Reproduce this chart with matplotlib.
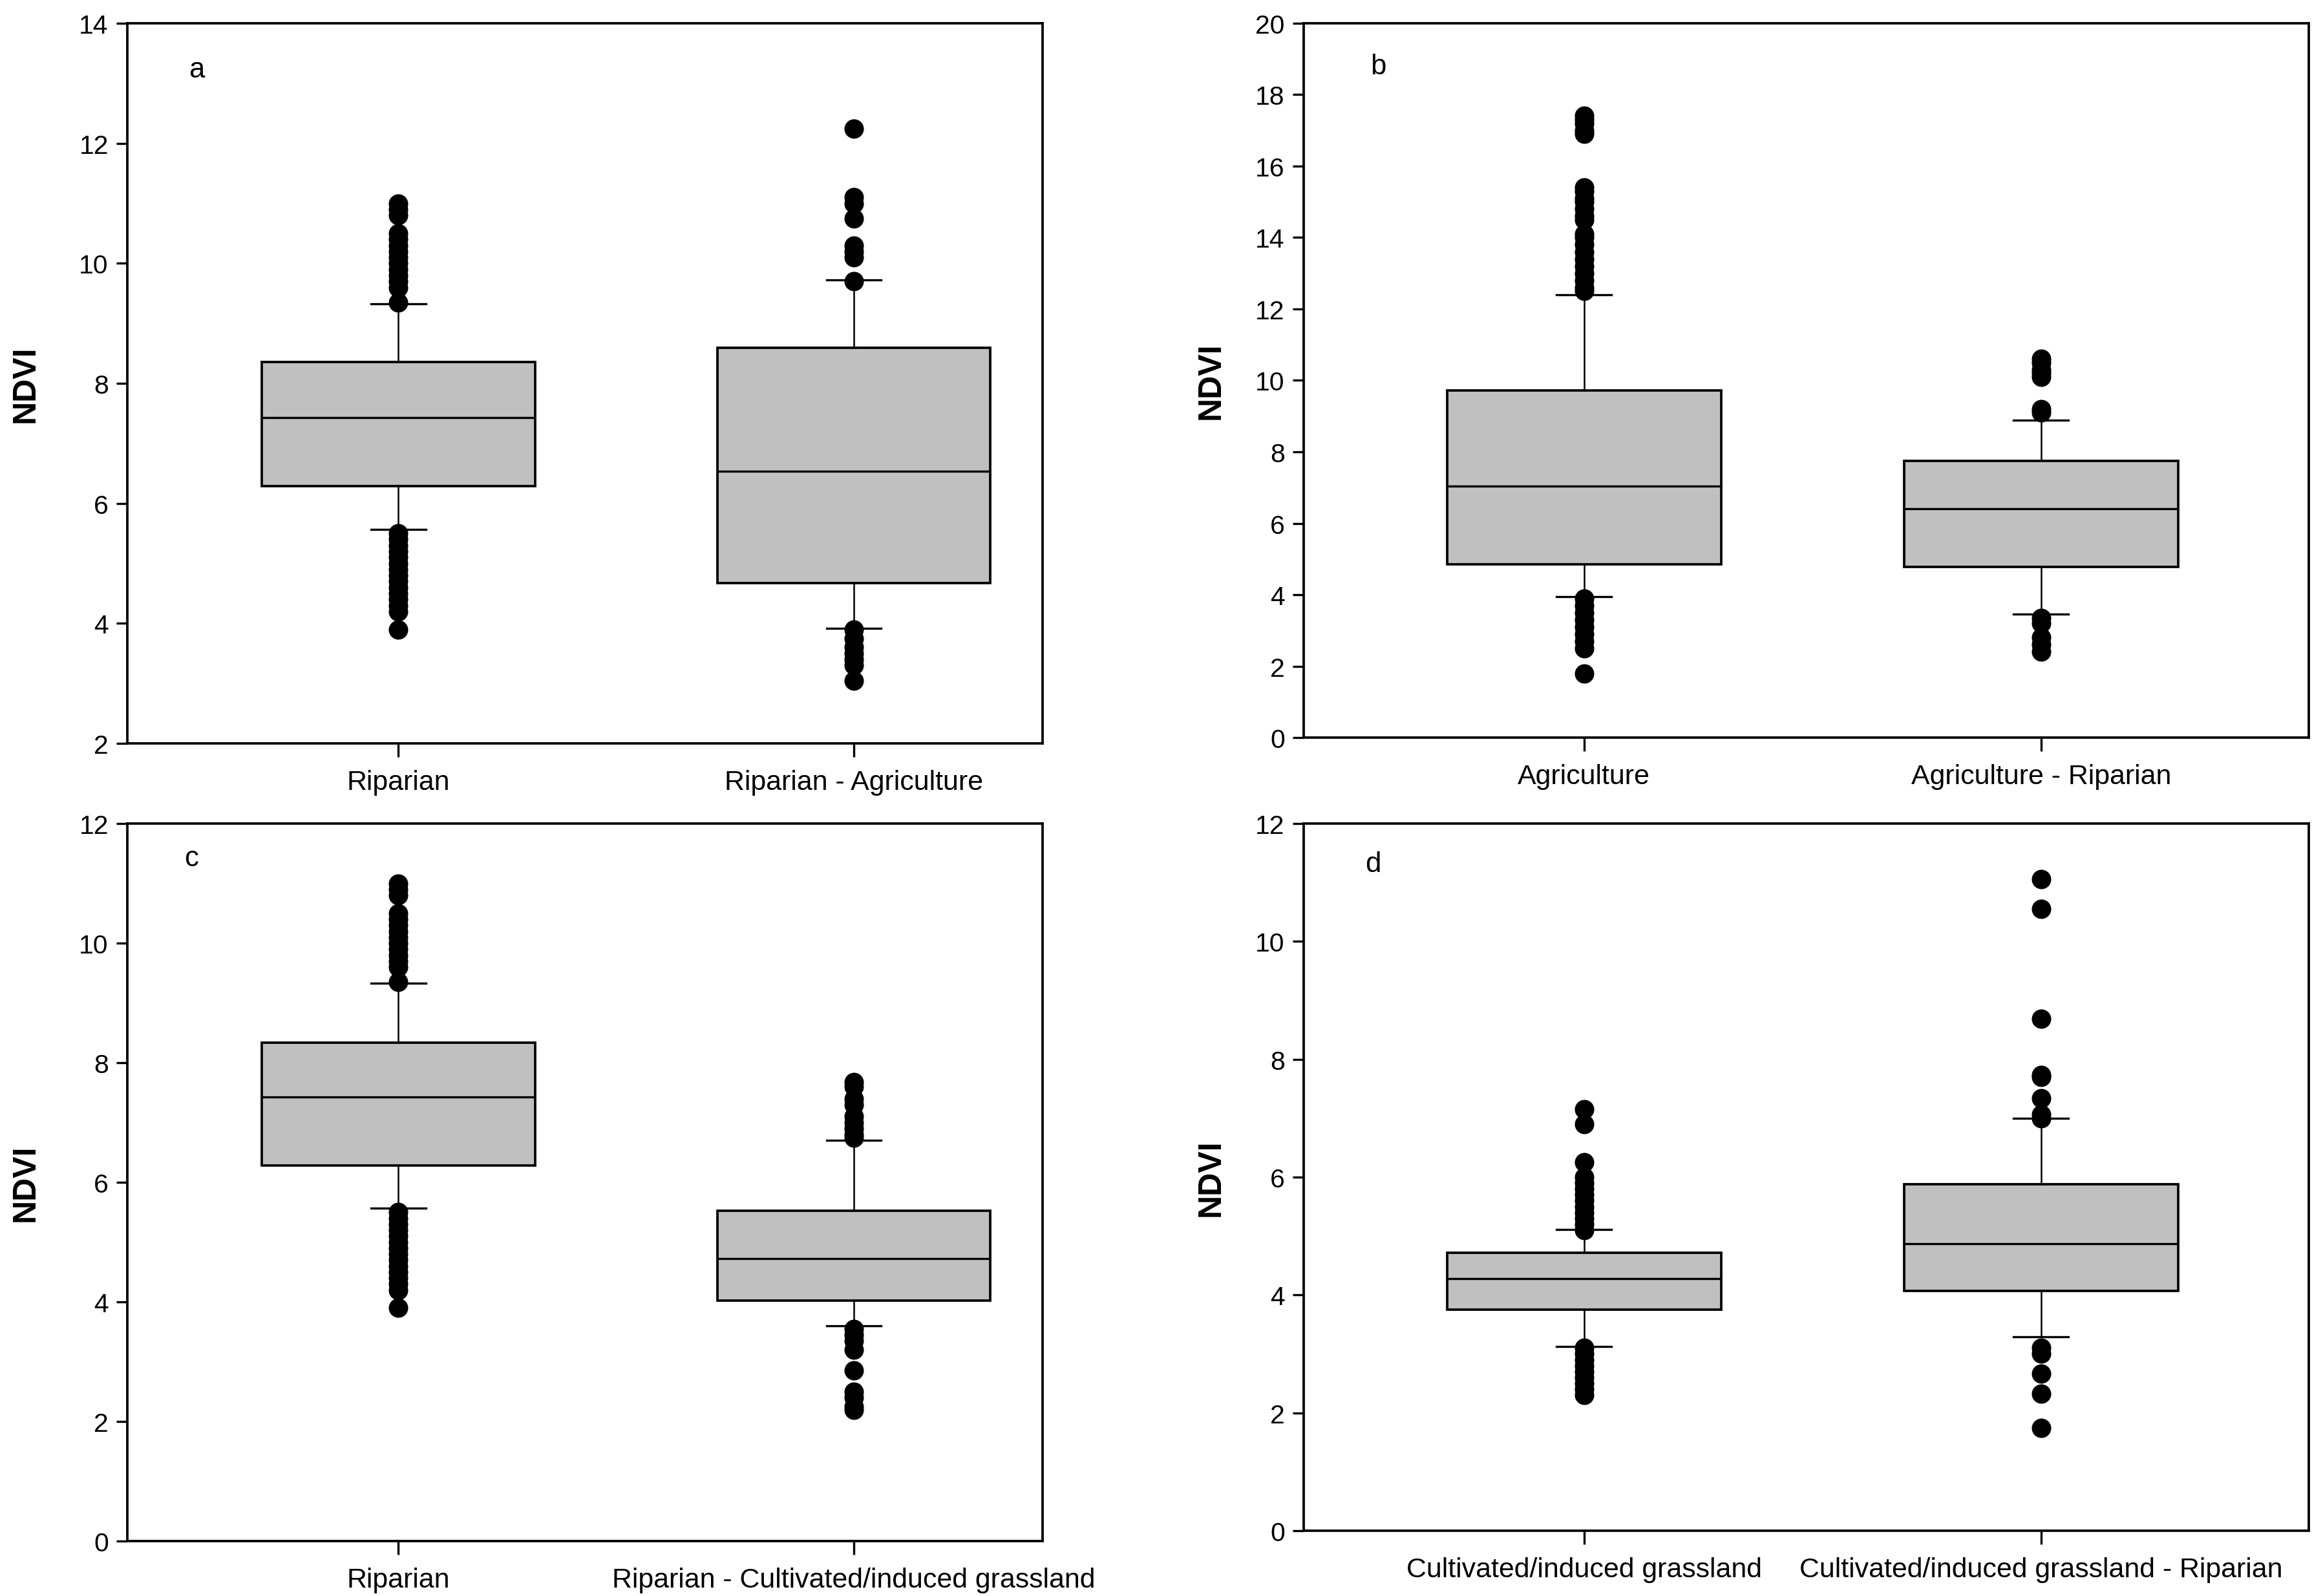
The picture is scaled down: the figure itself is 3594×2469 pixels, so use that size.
import matplotlib
matplotlib.use("Agg")
import matplotlib.pyplot as plt

plt.rcParams['font.family'] = ['Liberation Sans', 'DejaVu Sans']

# ---------- data ----------
# panel a
a_labels = ["Riparian", "Riparian - Agriculture"]
a_q1 = [6.29, 4.67]
a_med = [7.43, 6.54]
a_q3 = [8.36, 8.59]
a_whislo = [5.57, 3.92]
a_whishi = [9.33, 9.72]
a_fliers = [
    [11.0, 10.9, 10.8, 10.5, 10.4, 10.3, 10.2, 10.1, 10.0, 9.9, 9.8, 9.7, 9.6, 9.35,
     5.5, 5.4, 5.3, 5.2, 5.1, 5.0, 4.9, 4.8, 4.7, 4.6, 4.5, 4.4, 4.3, 4.2, 3.9],
    [12.25, 11.1, 11.0, 10.75, 10.3, 10.2, 10.1, 9.7,
     3.9, 3.75, 3.6, 3.5, 3.4, 3.3, 3.05],
]

# panel b
b_labels = ["Agriculture", "Agriculture - Riparian"]
b_q1 = [4.85, 4.78]
b_med = [7.05, 6.40]
b_q3 = [9.71, 7.75]
b_whislo = [3.95, 3.45]
b_whishi = [12.40, 8.88]
b_fliers = [
    [17.4, 17.3, 17.2, 17.0, 16.9, 15.4, 15.3, 15.1, 15.0, 14.8, 14.6, 14.5, 14.1, 14.0,
     13.8, 13.6, 13.4, 13.2, 13.0, 12.8, 12.6, 12.5,
     3.9, 3.7, 3.5, 3.3, 3.1, 2.9, 2.7, 2.5, 1.8],
    [10.6, 10.5, 10.3, 10.2, 10.1, 9.2, 9.1,
     3.35, 3.2, 2.8, 2.6, 2.4],
]

# panel c
c_labels = ["Riparian", "Riparian - Cultivated/induced grassland"]
c_q1 = [6.28, 4.02]
c_med = [7.43, 4.72]
c_q3 = [8.33, 5.52]
c_whislo = [5.57, 3.60]
c_whishi = [9.33, 6.70]
c_fliers = [
    [11.0, 10.9, 10.8, 10.5, 10.4, 10.3, 10.2, 10.1, 10.0, 9.9, 9.8, 9.7, 9.6, 9.35,
     5.5, 5.4, 5.3, 5.2, 5.1, 5.0, 4.9, 4.8, 4.7, 4.6, 4.5, 4.4, 4.3, 4.2, 3.9],
    [7.68, 7.6, 7.4, 7.3, 7.1, 7.0, 6.9, 6.8, 6.75,
     3.55, 3.45, 3.35, 3.2, 2.85, 2.5, 2.4, 2.25, 2.2],
]

# panel d
d_labels = ["Cultivated/induced grassland", "Cultivated/induced grassland - Riparian"]
d_q1 = [3.75, 4.07]
d_med = [4.28, 4.87]
d_q3 = [4.72, 5.88]
d_whislo = [3.13, 3.29]
d_whishi = [5.11, 7.00]
d_fliers = [
    [7.15, 6.9, 6.25, 6.0, 5.9, 5.8, 5.7, 5.6, 5.5, 5.4, 5.3, 5.2, 5.1,
     3.1, 3.0, 2.9, 2.8, 2.7, 2.6, 2.5, 2.4, 2.3],
    [11.06, 10.55, 8.69, 7.73, 7.70, 7.34, 7.06, 7.0,
     3.1, 3.0, 2.67, 2.32, 1.74],
]

panels = [
    dict(letter="a", labels=a_labels, q1=a_q1, med=a_med, q3=a_q3, lo=a_whislo, hi=a_whishi,
         fl=a_fliers, ylim=(2, 14), yticks=[2, 4, 6, 8, 10, 12, 14],
         rect=[0.0548, 0.534, 0.394, 0.451], xlim=(0.405, 2.415), letpos=(0.076, 0.936),
         ylab_x=-0.095),
    dict(letter="b", labels=b_labels, q1=b_q1, med=b_med, q3=b_q3, lo=b_whislo, hi=b_whishi,
         fl=b_fliers, ylim=(0, 20), yticks=list(range(0, 21, 2)),
         rect=[0.561, 0.5376, 0.4326, 0.4475], xlim=(0.386, 2.586), letpos=(0.074, 0.94),
         ylab_x=-0.077),
    dict(letter="c", labels=c_labels, q1=c_q1, med=c_med, q3=c_q3, lo=c_whislo, hi=c_whishi,
         fl=c_fliers, ylim=(0, 12), yticks=list(range(0, 13, 2)),
         rect=[0.0548, 0.0344, 0.394, 0.4494], xlim=(0.405, 2.415), letpos=(0.07, 0.952),
         ylab_x=-0.095),
    dict(letter="d", labels=d_labels, q1=d_q1, med=d_med, q3=d_q3, lo=d_whislo, hi=d_whishi,
         fl=d_fliers, ylim=(0, 12), yticks=list(range(0, 13, 2)),
         rect=[0.561, 0.0409, 0.4326, 0.4429], xlim=(0.386, 2.586), letpos=(0.069, 0.943),
         ylab_x=-0.077),
]

fig = plt.figure(figsize=(3595 / 300, 2470 / 300), dpi=300)

for p in panels:
    ax = fig.add_axes(p["rect"])
    stats = []
    for i in range(2):
        stats.append(dict(med=p["med"][i], q1=p["q1"][i], q3=p["q3"][i],
                          whislo=p["lo"][i], whishi=p["hi"][i], fliers=p["fl"][i]))
    ax.bxp(stats, positions=[1, 2], widths=0.6, patch_artist=True, capwidths=0.12,
           boxprops=dict(facecolor="#c0c0c0", edgecolor="black", linewidth=0.9),
           medianprops=dict(color="black", linewidth=0.8),
           whiskerprops=dict(color="black", linewidth=0.6),
           capprops=dict(color="black", linewidth=0.8),
           flierprops=dict(marker="o", markerfacecolor="black", markeredgecolor="black",
                           markersize=6.2, linestyle="none"))
    ax.set_xlim(*p["xlim"])
    ax.set_ylim(*p["ylim"])
    ax.set_yticks(p["yticks"])
    ax.set_xticks([1, 2])
    ax.set_xticklabels(p["labels"], fontsize=10.3)
    ax.tick_params(axis="y", labelsize=9.8, direction="out", length=4, width=0.8, pad=3)
    ax.tick_params(axis="x", direction="out", length=5, width=0.8, pad=4.5)
    for s in ax.spines.values():
        s.set_linewidth(0.9)
    ax.set_ylabel("NDVI", fontsize=12, fontweight="bold")
    ax.yaxis.set_label_coords(p["ylab_x"], 0.5)
    ax.text(p["letpos"][0], p["letpos"][1], p["letter"], transform=ax.transAxes,
            fontsize=10.5, ha="center", va="center")

fig.savefig("out.png", dpi=300, facecolor="white")
